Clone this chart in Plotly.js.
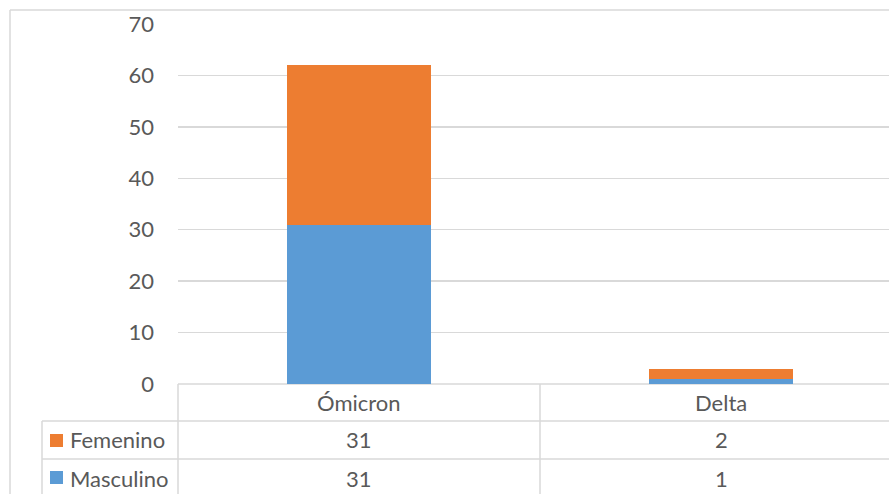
<!DOCTYPE html>
<html><head><meta charset="utf-8">
<script src="https://cdn.plot.ly/plotly-3.0.1.min.js"></script>
<style>html,body{margin:0;padding:0;overflow:hidden;background:#fff}#chart{width:910px;height:494px}</style>
</head><body><div id="chart"></div>
<script>
const categories = ["Ómicron", "Delta"];
const seriesNames = ["Femenino", "Masculino"];
const femenino = [31, 2];
const masculino = [31, 1];
const yTicks = [0, 10, 20, 30, 40, 50, 60, 70];

const orange = "#ED7D31", blue = "#5B9BD5", grid = "#D9D9D9", txt = "#595959";
const FONT = "Lato, 'Noto Sans', sans-serif";
const FS = 22;

// plot area pixel geometry
const L = 178, R = 902, T = 24, B = 384;
const px = x => (x - L) / (R - L);
const py = y => (B - y) / (B - T);

const traces = [
  {type: "bar", name: seriesNames[1], x: categories, y: masculino, marker: {color: blue}, width: 0.4, hoverinfo: "x+y+name"},
  {type: "bar", name: seriesNames[0], x: categories, y: femenino, marker: {color: orange}, width: 0.4, hoverinfo: "x+y+name"}
];

const line = (x0, y0, x1, y1) => ({type: "line", xref: "paper", yref: "paper",
  x0: px(x0), y0: py(y0), x1: px(x1), y1: py(y1), line: {color: grid, width: 1.5}, layer: "below"});

const shapes = [
  line(10, 10, 10, 494),       // outer border left
  line(10, 10, 910, 10),       // outer border top
  line(L, B, R, B),            // table top
  line(42, 421, R, 421),
  line(42, 459, R, 459),
  line(42, 421, 42, 494),
  line(L, B, L, 494),
  {type: "line", xref: "x", yref: "paper", x0: 0.5, x1: 0.5, y0: py(B), y1: py(494), line: {color: grid, width: 1.5}},
  {type: "rect", xref: "paper", yref: "paper", x0: px(50), x1: px(63), y0: py(434), y1: py(447), fillcolor: orange, line: {width: 0}},
  {type: "rect", xref: "paper", yref: "paper", x0: px(50), x1: px(63), y0: py(471), y1: py(484), fillcolor: blue, line: {width: 0}}
];

const ann = [];
const rowY = [402.5, 440, 478];
categories.forEach((c, i) => {
  ann.push({xref: "x", yref: "paper", x: c, y: py(rowY[0]), text: c, showarrow: false, yanchor: "middle"});
  ann.push({xref: "x", yref: "paper", x: c, y: py(rowY[1]), text: String(femenino[i]), showarrow: false, yanchor: "middle"});
  ann.push({xref: "x", yref: "paper", x: c, y: py(rowY[2]), text: String(masculino[i]), showarrow: false, yanchor: "middle"});
});
ann.push({xref: "paper", yref: "paper", x: px(68), y: py(rowY[1]), text: seriesNames[0], showarrow: false, xanchor: "left", yanchor: "middle"});
ann.push({xref: "paper", yref: "paper", x: px(68), y: py(rowY[2]), text: seriesNames[1], showarrow: false, xanchor: "left", yanchor: "middle"});
ann.forEach(a => a.font = {family: FONT, size: FS, color: txt});

const layout = {
  width: 910, height: 494,
  margin: {l: L, r: 910 - R, t: T, b: 494 - B, pad: 0},
  barmode: "stack",
  showlegend: false,
  paper_bgcolor: "#fff", plot_bgcolor: "#fff",
  font: {family: FONT, size: FS, color: txt},
  xaxis: {type: "category", range: [-0.5, 1.5], showticklabels: false, showgrid: false, zeroline: false, showline: false, fixedrange: true},
  yaxis: {range: [0, 70], tickvals: yTicks, ticktext: yTicks.map(String), showgrid: true, gridcolor: grid, gridwidth: 1.5,
          zeroline: false, showline: false, ticks: "", ticklabelstandoff: 23, tickfont: {family: FONT, size: FS, color: txt}, fixedrange: true},
  shapes: shapes,
  annotations: ann
};

Plotly.newPlot("chart", traces, layout, {displayModeBar: false, staticPlot: true});
</script></body></html>
